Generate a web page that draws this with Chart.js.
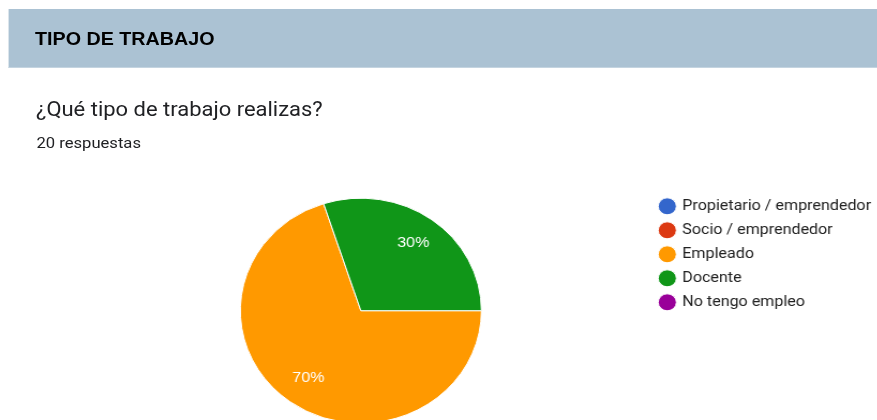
<!DOCTYPE html>
<html lang="es">
<head>
<meta charset="utf-8">
<title>Tipo de trabajo</title>
<script src="https://cdn.jsdelivr.net/npm/chart.js"></script>
<style>
  html, body { margin: 0; padding: 0; background: #fff; }
  body { width: 877px; height: 420px; overflow: hidden; position: relative; }
  /* the whole summary card is laid out narrower and stretched sideways */
  #page { position: absolute; left: 0; top: 0; width: 819px; height: 460px;
          transform: scaleX(1.0714); transform-origin: 0 0; }
  .section { position: absolute; left: 7.5px; top: 9px; width: 811.5px; height: 59px;
             background: #abc2d3; border-bottom: 1px solid #c4d4e0; box-sizing: border-box; }
  .section h2 { position: absolute; left: 25.2px; top: 20.6px; margin: 0;
                font: bold 18.4px/18.4px "Liberation Sans", Arial, sans-serif; color: #000; }
  .question { position: absolute; left: 33.6px; top: 99.4px;
              font: 20.5px/20.5px Roboto, "Noto Sans", sans-serif; color: #202124; }
  .count { position: absolute; left: 34px; top: 136px;
           font: 15.5px/15.5px Roboto, "Noto Sans", sans-serif; color: #202124; }
  .chart-box { position: absolute; left: 0; top: 150px; width: 823px; height: 300px; }
</style>
</head>
<body>
<div id="page">
  <div class="section"><h2>TIPO DE TRABAJO</h2></div>
  <div class="question">¿Qué tipo de trabajo realizas?</div>
  <div class="count">20 respuestas</div>
  <div class="chart-box"><canvas id="pieChart"></canvas></div>
</div>
<script>
// answers to "¿Qué tipo de trabajo realizas?"
const labels = ['Propietario / emprendedor', 'Socio / emprendedor', 'Empleado', 'Docente', 'No tengo empleo'];
const counts = [0, 0, 14, 6, 0];
const colors = ['#3366cc', '#dc3912', '#ff9900', '#109618', '#990099'];

// percentage text inside each non-empty slice
const sliceLabels = {
  id: 'sliceLabels',
  afterDatasetsDraw(chart) {
    const ctx = chart.ctx;
    const meta = chart.getDatasetMeta(0);
    const total = counts.reduce((a, b) => a + b, 0);
    ctx.save();
    ctx.fillStyle = '#fff';
    ctx.font = '15px "Liberation Sans", Arial, sans-serif';
    ctx.textAlign = 'center';
    ctx.textBaseline = 'middle';
    meta.data.forEach((arc, i) => {
      if (!counts[i]) return;
      const { x, y, startAngle, endAngle, outerRadius } =
        arc.getProps(['x', 'y', 'startAngle', 'endAngle', 'outerRadius'], true);
      const mid = (startAngle + endAngle) / 2;
      const r = outerRadius * 0.74;
      ctx.fillText(Math.round(counts[i] / total * 100) + '%', x + Math.cos(mid) * r, y + Math.sin(mid) * r);
    });
    ctx.restore();
  }
};

new Chart(document.getElementById('pieChart'), {
  type: 'pie',
  data: {
    labels,
    datasets: [{
      data: counts,
      backgroundColor: colors,
      borderColor: '#fff',
      borderWidth: 1,
      radius: 112.5
    }]
  },
  options: {
    responsive: true,
    maintainAspectRatio: false,
    animation: false,
    rotation: 90,
    layout: { padding: { left: 66.3, right: 0, top: 39.8, bottom: 18.4 } },
    plugins: {
      tooltip: { enabled: false },
      legend: {
        position: 'right',
        align: 'start',
        labels: {
          usePointStyle: true,
          pointStyle: 'circle',
          boxWidth: 13,
          boxHeight: 12,
          padding: 9,
          color: '#222',
          font: { family: 'Roboto', size: 15 }
        }
      }
    }
  },
  plugins: [sliceLabels]
});
</script>
</body>
</html>
